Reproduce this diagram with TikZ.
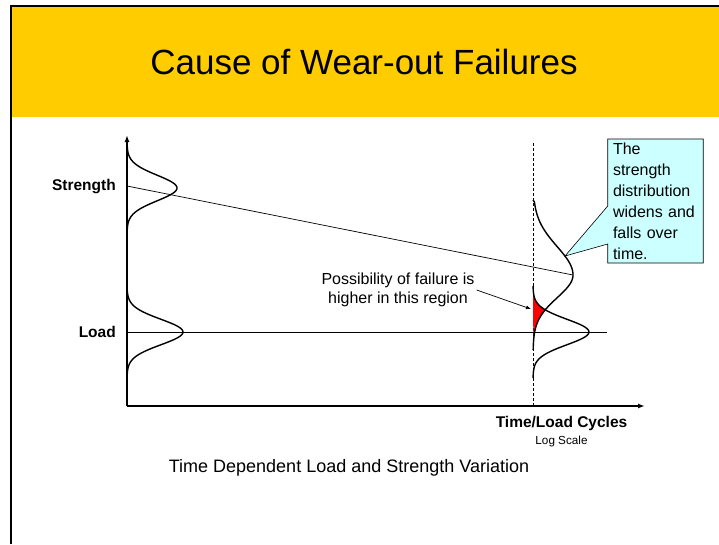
\documentclass[tikz,border=0pt]{standalone}
\usepackage{fontspec}
\setmainfont{Liberation Sans}
\usepackage{xcolor}
\usetikzlibrary{arrows.meta, positioning, shapes.callouts}
\definecolor{bannerYellow}{HTML}{FFCC00}
\definecolor{noteCyan}{HTML}{CCFFFF}
\tikzset{
    frame/.style={line width=2pt, black},
    banner/.style={fill=bannerYellow},
    axis/.style={line width=1.8pt, -{Latex[length=7pt, width=5pt]}},
    dist/.style={line width=1.4pt, black, line join=round},
    trend/.style={line width=0.7pt, black},
    marker/.style={line width=0.8pt, black, dash pattern=on 3pt off 2pt},
    valueLabel/.style={font=\fontsize{15.5}{18}\selectfont\bfseries, anchor=east, inner sep=0pt},
    textNote/.style={font=\fontsize{16}{19}\selectfont, align=center, inner sep=2pt},
    pointer/.style={line width=0.7pt, -{Latex[length=5pt, width=4pt]}},
    note/.style={rectangle callout, draw=black, line width=0.6pt, fill=noteCyan,
        font=\fontsize{16}{21}\selectfont, align=left, text width=85pt,
        inner xsep=5pt, inner ysep=2pt, minimum width=95.5pt, minimum height=124pt,
        callout pointer width=38pt}
}

\begin{document}
\begin{tikzpicture}[x=1pt, y=-1pt,
    declare function={gs(\t,\m,\s)=exp(0-((\t-\m)/\s)^2);}]
    \useasboundingbox (0,0) rectangle (719,544);

    % Slide frame and title banner
    \fill[banner] (12,7) rectangle (719,117);
    \draw[frame] (11,544) -- (11,6) -- (719,6);
    \node (title) at (364,62) {\fontsize{35}{40}\selectfont Cause of Wear-out Failures};

    % Axes
    \coordinate (origin) at (127,406);
    \coordinate (yTop) at (127,135);
    \coordinate (xEnd) at (645,406);
    \draw[axis] (origin) -- (yTop);
    \draw[axis] (origin) -- (xEnd);

    % Later time marker
    \coordinate (mTop) at (533,143);
    \coordinate (mBot) at (533,406);
    \draw[marker] (mTop) -- (mBot);

    % Overlap region (red)
    \fill[red] plot[domain=288:346, samples=90]
        ({533+min(56*gs(\x,332,18),40*gs(\x,275,32))}, \x) -- cycle;

    % Distributions at start
    \draw[dist] plot[domain=146:230, samples=70] ({127+50*gs(\x,188,18)}, \x);
    \draw[dist] plot[domain=288:378, samples=70] ({127+56*gs(\x,332,18)}, \x);

    % Distributions later on
    \draw[dist] (533,200) -- plot[domain=202:275, samples=60] ({533+40*gs(\x,275,40)}, \x)
        -- plot[domain=275:350, samples=60] ({533+40*gs(\x,275,32)}, \x);
    \draw[dist] plot[domain=286:378, samples=70] ({533+56*gs(\x,332,18)}, \x);

    % Mean lines
    \coordinate (sStart) at (127,186);
    \coordinate (sPeak) at (573,275);
    \coordinate (lStart) at (127,332);
    \coordinate (lEnd) at (607,332);
    \draw[trend] (sStart) -- (sPeak);
    \draw[trend] (lStart) -- (lEnd);

    % Labels
    \node[valueLabel] (strength) at (116,187) {Strength};
    \node[valueLabel] (load) at (116,332) {Load};
    \node[font=\fontsize{15.5}{18}\selectfont\bfseries, inner sep=0pt] (xlabel) at (561.5,423) {Time/Load Cycles};
    \node[font=\fontsize{11.7}{14}\selectfont, inner sep=0pt] (scale) at (561.5,441) {Log Scale};
    \node[font=\fontsize{18}{21}\selectfont, inner sep=0pt] (caption) at (349,468) {Time Dependent Load and Strength Variation};

    % Failure note
    \node[textNote] (fail) at (398,290) {Possibility of failure is\\higher in this region};
    \coordinate (redTip) at (531,309);
    \draw[pointer] (fail.east) -- (redTip);

    % Callout
    \coordinate (spreadTip) at (565,256);
    \node[note, callout absolute pointer={(spreadTip)}] (spread) at (655.5,201)
        {The\\strength\\distribution\\widens and\\falls over\\time.};
\end{tikzpicture}
\end{document}
